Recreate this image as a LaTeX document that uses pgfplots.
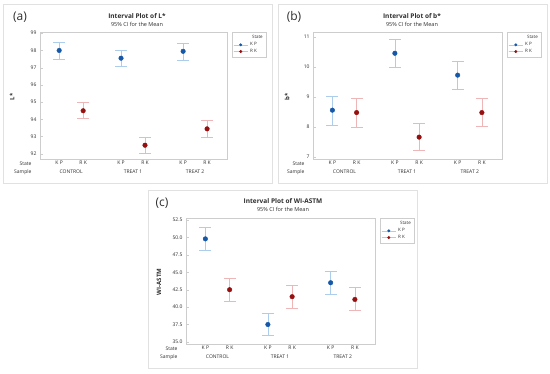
\documentclass[border=0pt]{standalone}
\usepackage{fontspec}
\setmainfont{Open Sans}
\usepackage{pgfplots}
\pgfplotsset{compat=1.18}
\definecolor{kpdot}{RGB}{22,88,168}
\definecolor{kpbar}{RGB}{172,205,236}
\definecolor{rkdot}{RGB}{150,16,16}
\definecolor{rkbar}{RGB}{238,182,182}
\definecolor{axgray}{RGB}{205,205,205}
\definecolor{txt}{RGB}{45,45,45}
\definecolor{frame}{RGB}{225,225,225}
\pgfplotsset{
 ip/.style={
  scale only axis,
  axis line style={axgray},
  xmin=0.2,xmax=8,
  xtick={1,2,3.58,4.58,6.17,7.17},
  xticklabels={K P,R K,K P,R K,K P,R K},
  major tick length=2.5pt,
  tick style={axgray},
  xtick style={draw=none},
  ytick pos=left,
  tick label style={font=\fontsize{5}{6}\selectfont, text=txt},
  /pgf/number format/assume math mode=true,
  xticklabel style={yshift=1.2pt},
  clip=false,
  legend style={at={(1.025,1)}, anchor=north west, draw=axgray, font=\fontsize{4.5}{5}\selectfont, row sep=-2pt, inner sep=1.5pt, legend cell align=left, text=txt},
  legend image code/.code={\draw[#1] (0cm,0cm) -- (0.5cm,0cm); \draw[#1, mark repeat=2, mark phase=2] plot coordinates {(0cm,0cm) (0.25cm,0cm) (0.5cm,0cm)};},
 },
 kp/.style={only marks, mark=*, mark size=2.3pt, color=kpdot, mark options={fill=kpdot, draw=kpdot}, forget plot,
   error bars/.cd, y dir=both, y explicit, error bar style={kpbar, line width=0.6pt},
   error mark options={kpbar, rotate=90, mark size=6pt, line width=0.6pt}},
 rk/.style={only marks, mark=*, mark size=2.3pt, color=rkdot, mark options={fill=rkdot, draw=rkdot}, forget plot,
   error bars/.cd, y dir=both, y explicit, error bar style={rkbar, line width=0.6pt},
   error mark options={rkbar, rotate=90, mark size=6pt, line width=0.6pt}},
}
\newcommand\grouplabels{%
  \node[font=\fontsize{5}{6}\selectfont, text=txt] at ({axis cs:1.5,0} |- {rel axis cs:0,0}) [yshift=-13pt] {CONTROL};
  \node[font=\fontsize{5}{6}\selectfont, text=txt] at ({axis cs:4.08,0} |- {rel axis cs:0,0}) [yshift=-13pt] {TREAT 1};
  \node[font=\fontsize{5}{6}\selectfont, text=txt] at ({axis cs:6.67,0} |- {rel axis cs:0,0}) [yshift=-13pt] {TREAT 2};
  \node[font=\fontsize{5}{6}\selectfont, text=txt, anchor=east] at (rel axis cs:0,0) [xshift=-5pt, yshift=-5pt] {State};
  \node[font=\fontsize{5}{6}\selectfont, text=txt, anchor=east] at (rel axis cs:0,0) [xshift=-5pt, yshift=-13pt] {Sample};
}
\newcommand\legendentries{%
  \addlegendimage{empty legend}\addlegendentry{\hspace{2pt}State}
  \addlegendimage{kpbar, line width=0.5pt, mark=*, mark size=1.2pt, mark options={draw=kpdot, fill=kpdot}}\addlegendentry{K P}
  \addlegendimage{rkbar, line width=0.5pt, mark=*, mark size=1.2pt, mark options={draw=rkdot, fill=rkdot}}\addlegendentry{R K}
}
\begin{document}
\begin{tikzpicture}[x=1pt,y=1pt]
\path[use as bounding box] (0,0) rectangle (550,373);
% frames
\draw[frame, line width=0.6pt] (3,190) rectangle (272,369);
\draw[frame, line width=0.6pt] (278,190) rectangle (547,369);
\draw[frame, line width=0.6pt] (148,5) rectangle (417,183);

% ---------- (a)
\begin{axis}[ip, at={(40pt,214pt)}, anchor=south west, width=187pt, height=127pt,
  ymin=91.7, ymax=99.07, ytick={92,93,...,99}]
\legendentries
\addplot[kp] coordinates {(1,98.0) += (0,0.45) -= (0,0.5) (3.58,97.55) += (0,0.45) -= (0,0.45) (6.17,97.95) += (0,0.45) -= (0,0.5)};
\addplot[rk] coordinates {(2,94.5) += (0,0.5) -= (0,0.45) (4.58,92.5) += (0,0.48) -= (0,0.45) (7.17,93.45) += (0,0.47) -= (0,0.47)};
\grouplabels
\end{axis}
\node[font=\fontsize{12}{14}\selectfont, text=txt] at (20,356) {(a)};
\node[font=\fontsize{6.5}{7}\selectfont\bfseries, text=txt] at (137,357) {Interval Plot of L*};
\node[font=\fontsize{5.5}{6}\selectfont, text=txt] at (137,349) {95\% CI for the Mean};
\node[font=\fontsize{6}{7}\selectfont\bfseries, text=txt, rotate=90] at (12,276) {L*};

% ---------- (b)
\begin{axis}[ip, at={(313pt,214pt)}, anchor=south west, width=189pt, height=127pt,
  ymin=6.92, ymax=11.16, ytick={7,8,...,11}]
\legendentries
\addplot[kp] coordinates {(1,8.55) += (0,0.45) -= (0,0.5) (3.58,10.45) += (0,0.45) -= (0,0.48) (6.17,9.72) += (0,0.46) -= (0,0.47)};
\addplot[rk] coordinates {(2,8.47) += (0,0.46) -= (0,0.49) (4.58,7.65) += (0,0.47) -= (0,0.45) (7.17,8.47) += (0,0.48) -= (0,0.47)};
\grouplabels
\end{axis}
\node[font=\fontsize{12}{14}\selectfont, text=txt] at (294,356) {(b)};
\node[font=\fontsize{6.5}{7}\selectfont\bfseries, text=txt] at (412,357) {Interval Plot of b*};
\node[font=\fontsize{5.5}{6}\selectfont, text=txt] at (412,349) {95\% CI for the Mean};
\node[font=\fontsize{6}{7}\selectfont\bfseries, text=txt, rotate=90] at (287,276) {b*};

% ---------- (c)
\begin{axis}[ip, at={(186pt,29pt)}, anchor=south west, width=189pt, height=126pt,
  ymin=34.7, ymax=52.8, ytick={35,37.5,...,52.5},
  yticklabel style={/pgf/number format/.cd, fixed, fixed zerofill, precision=1}]
\legendentries
\addplot[kp] coordinates {(1,49.8) += (0,1.6) -= (0,1.7) (3.58,37.5) += (0,1.6) -= (0,1.6) (6.17,43.5) += (0,1.6) -= (0,1.7)};
\addplot[rk] coordinates {(2,42.5) += (0,1.6) -= (0,1.7) (4.58,41.5) += (0,1.6) -= (0,1.6) (7.17,41.1) += (0,1.7) -= (0,1.6)};
\grouplabels
\end{axis}
\node[font=\fontsize{12}{14}\selectfont, text=txt] at (162,170) {(c)};
\node[font=\fontsize{6.5}{7}\selectfont\bfseries, text=txt] at (283,172) {Interval Plot of WI-ASTM};
\node[font=\fontsize{5.5}{6}\selectfont, text=txt] at (283,164) {95\% CI for the Mean};
\node[font=\fontsize{6}{7}\selectfont\bfseries, text=txt, rotate=90] at (159,91) {WI-ASTM};
\end{tikzpicture}
\end{document}
